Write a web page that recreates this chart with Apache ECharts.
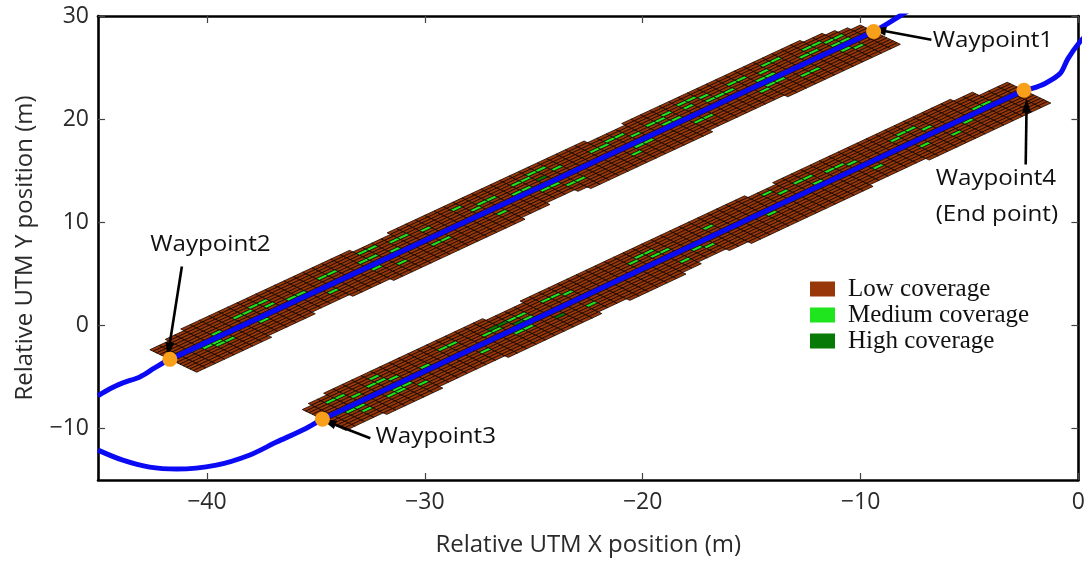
<!DOCTYPE html>
<html><head><meta charset="utf-8">
<script src="https://cdn.jsdelivr.net/npm/echarts@6/dist/echarts.min.js"></script>
<style>html,body{margin:0;padding:0;background:#fff}#c{width:1088px;height:562px}</style>
</head><body><div id="c"></div><script>
// ---------- data ----------
const xTicks = [-40, -30, -20, -10, 0];
const yTicks = [-10, 0, 10, 20, 30];
const waypointNames = ['Waypoint1', 'Waypoint2', 'Waypoint3', 'Waypoint4'];
const waypoints = [[-9.4, 28.5], [-41.7, -3.3], [-34.7, -9.1], [-2.5, 22.8]];
const pathUpper = [[-45, -6.83], [-44.45, -6.15], [-43.86, -5.58], [-43.08, -5.0], [-42.4, -4.13],
  [-41.7, -3.3], [-9.4, 28.5], [-8.2, 30.0], [-7.6, 30.8]];
const pathLower = [[0.4, 28.2], [0.07, 27.5], [-0.48, 25.87], [-0.84, 24.42], [-1.53, 23.46], [-2.12, 22.98],
  [-2.5, 22.8], [-34.7, -9.1], [-35.46, -10.0], [-36.83, -11.35], [-38.06, -12.6], [-39.57, -13.56],
  [-41.39, -13.94], [-42.63, -13.75], [-43.86, -13.08], [-45, -12.1]];
const seriesNames = ['Low coverage', 'Medium coverage', 'High coverage'];
// coverage cells along strip Waypoint2 -> Waypoint1 (rows from upper-left edge to lower-right edge)
// L = low, M = medium, H = high, . = no cell
const strip1Rows = [
  '....LLLLLLLLLLL LLLLLLL....LLLL LLLLLLLLLLLLLLL LL....LLLLLLLLL LLLLLLLLLL.....',
  '..LLLLLLLLLLLLL LLLLLLLLLLLLLLL LLLLLLLLLLLLLLL LLLLLLLLLLLLLLL LLLLLLLLLLLL...',
  'LLLLLLLLLLLLLLL LLLLLLLMMLLLLLL LLMLLLLLLLMMLLL LLLLLLLLLLLMMLL LLLLLMMLLLLLL..',
  'LLLLLLLLLLMMLLL LLLLLLLLLLMMLLL LLLLLLLLMMLLLLL LLLMMLLLLMLLLML LMMLLLLLLMMLLL.',
  'LLLLLLLLMMLLLLL LLMMLLLLLLLLLML LLLLMMLLLLLLMLL LMMLLLLMMLLMLLL LLLLMLLLLLLMMLL',
  'LLLLLLLLLLLMLLL LLLLLLMMLLLLLLL LLLMLLLLLLHLLLL LLLLLMLLLLLLLMM MLLLLLLLMMLLLLL',
  'LLLLLMLLLLLLLMM LLLLLLLLLMLLLLL LLLLLLLMMLLLLLL LLLLLLLLMMLLLLL LLLMMLLLLLLMMLL',
  'LLLLLLLLLLLLLLL LLLLLLLLLLLLLLL LLLLLLLLLLLLLLL LLLLLLLLLLLLLLL LLLLLLLLLLLLLLL',
  'LLMMLLLLLLLLLLL LLLLLLLLLLLLLLL LLLLLLLLLLLLLLL LLLLLLLLLLLLLLL LLLLLLLMLLLLLLL',
  'LLLMMLLLLMLLLLL LLLLLLMLLLLLLLL LLLLLLLLLMMLLLL LLLLMMLLLLLLLLL LLLMMLLLLLLMLLL',
  'LLLLMMLLLLLLLLL LMLLLLLLLLLLMML LLLLMLLLLLLLLLL LLLLLLLLLLMMLLL LLMLLLLLLLLLMLL',
  'LLLLLLLLLLLLLLL LLLLLLLLMLLLLLL LLLLLLLLLLLMMLL LLLMLLLLLLLLLLL LLLLLLMMLLLLLLL',
  'LLLLLLLLLLLLLLL LLLLLLLLLLLLLLL LLLLLLLLLLLLLLL LLLLLLLLLLLLLLL LLLLLLLLLLLLLLL',
  'LLLLLLLLLLLLLLL LLLLLLLLLLLLLLL LLLLLLLLLLLLLLL LLLLLLLLLLLLLLL LLLLLLLLLLLLLLL',
  'LLLLLLLLLLLLL.. ..LLLLLLLLLLLLL LLLLLLLL...LLLL LLLLLLLLLLLLLLL LLLLLLLLLLLLLLL',
  'LLLLLLLL....... ......LLLLLLLLL LLLLL.......LLL LLLLLLLLLL..... ...LLLLLLLLLLLL'
];
// coverage cells along strip Waypoint3 -> Waypoint4
const strip2Rows = [
  '...LLLLLLLLLLLL LLLLL....LLLLLL LLLLLLLLLLLLLLL LLL...LLLLLLLLL LLLLLLLLLL.....',
  '.LLLLLLLLLLLLLL LLLLLLLLLLLLLLL LLLLLLLLLLLLLLL LLLLLLLLLLLLLLL LLLLLLLLLLLL...',
  'LLLLLLLMLLLLLLL LLLLLLLLLLLLLLL LLLLLLLLLLLLLLL LLLLMLLLLLLLLLL LLLLLLLLLLLL...',
  'LLMMLLLLLLLLLLM MLLLLLLLLLMMLLL LLLLLMMLLLLLLLL LLLLLLLMMLLLLLL LLLMMLLLLLLLLLL',
  'LLLLLLMMLLLLLLL LLLLHHMMLLLLMLL LLLLMLLLLLLLMLL LLLLLMLLLLMMLLL LLMLLLLLLLLLLLL',
  'LLLLMLLLMLLLLLL LLLMMLLLLLLLLLL LLLLLLMMLLLLLLL LLLLLLLLLLLLMLL LLLLLMLLLLLLLLL',
  'LLLLLLLLLLLMLLL LLLLLLHMLLLLLLL LLLLLLLLLLLLLLL LLLLLLLLMLLLLLL LLLLLLLLLLMMLLL',
  'LLLLLLLLLLLLLLL LLLLLLLLLLLLLLL LLLLLLLLLLLLLLL LLLLLLLLLLLLLLL LLLLLLLLLLLLLLL',
  'LMLLLLLLLLLLLLL LLLLLLLLLLLLLLL LLLLLLLLLLLLLLL LLLLLLLLLLLLLLL LLLLLLLLLLLLLLL',
  'LLMMLLLMMLLLLLL LLLLLMMLLLLLLLL LLLLLLLLLMLLLLL LLMLLLLLLLLLLLL LLLLLLLLMLLLLLL',
  'LLLLLLMMLLLLLLL LMLLLLLLLHLLLLL LLLLLLLLLLMLLLL LLLLLLLLLLLLLML LLLMLLLLLLLLLLL',
  'LLLMLLLLLMLLLLL LLLLLLLLLLLLMLL LLLLLLLMLLLLLLL LLLLLLLLLLLLLLL LLLLLLMLLLLLLLL',
  'LLLLLLLLLLLLLLL LLLLLLLLLLLLLLL LLLLLLLLLLLLLLL LLLLLLLLLLLLLLL LLLLLLLLLLLLLLL',
  'LLLLLLLLLLLLLLL LLLLLLLLLLLLLLL LLLLLLLLLLLLLLL LLLLLLLLLLLLLLL LLLLLLLLLLLLLLL',
  'LLLLLLLLLLLLLLL LLLLLLLLLLLLLLL LLLLLLLL...LLLL LLLLLLLLLLLLLLL LLLLLLLLLLLLLLL',
  '....LLLLLL..... ..LLLLLLLLLL... LLLLLL.......LL LLLLLLLLLLL.... ..LLLLLLLLLLLLL'
];

// ---------- styling / layout (not data) ----------
const COLORS = ['#983709', '#1ee51e', '#087a08'];
const HALF_WIDTH = 1.75;   // strip half width (m)
const stripDefs = [{from: 1, to: 0, rows: strip1Rows}, {from: 2, to: 3, rows: strip2Rows}];
// annotation placement in data coords
const annotations = [
  {lines: ['Waypoint1'], at: [-6.69, 27.55], align: 'left', arrowFrom: [-6.75, 27.7], wp: 0, tipOff: [0.25, 0.15]},
  {lines: ['Waypoint2'], at: [-39.84, 7.8], align: 'center', arrowFrom: [-41.15, 5.7], wp: 1, tipOff: [-0.05, 0.95]},
  {lines: ['Waypoint3'], at: [-32.26, -10.85], align: 'left', arrowFrom: [-32.5, -10.95], wp: 2, tipOff: [0.3, -0.3]},
  {lines: ['Waypoint4', '(End point)'], at: [-6.55, 14.15], align: 'left', arrowFrom: [-2.42, 15.6], wp: 3, tipOff: [0.12, -1.5]}
];

const FONT = '"Open Sans", "Noto Sans", sans-serif';

// strip geometry
const geom = stripDefs.map(d => {
  const a = waypoints[d.from], b = waypoints[d.to];
  const dx = b[0] - a[0], dy = b[1] - a[1];
  const len = Math.hypot(dx, dy);
  const ux = dx / len, uy = dy / len;
  const rows = d.rows.map(r => r.replace(/ /g, ''));
  const ncol = rows[0].length;
  return {ax: a[0], ay: a[1], ux, uy, nx: -uy, ny: ux, cl: len / ncol, rw: 2 * HALF_WIDTH / rows.length, rows};
});
const cellData = [[], [], []];
geom.forEach((g, k) => {
  g.rows.forEach((row, r) => {
    for (let c = 0; c < row.length; c++) {
      const lvl = 'LMH'.indexOf(row[c]);
      if (lvl < 0) continue;
      const s = (c + 0.5) * g.cl, t = HALF_WIDTH - (r + 0.5) * g.rw;
      cellData[lvl].push([g.ax + g.ux * s + g.nx * t, g.ay + g.uy * s + g.ny * t, k, c, r]);
    }
  });
});
function renderCell(params, api) {
  const k = api.value(2), c = api.value(3), r = api.value(4);
  const g = geom[k];
  const s0 = c * g.cl, s1 = (c + 1) * g.cl;
  const t0 = HALF_WIDTH - r * g.rw, t1 = HALF_WIDTH - (r + 1) * g.rw;
  const P = (s, t) => api.coord([g.ax + g.ux * s + g.nx * t, g.ay + g.uy * s + g.ny * t]);
  return {type: 'polygon', shape: {points: [P(s0, t0), P(s1, t0), P(s1, t1), P(s0, t1)]},
    style: {fill: api.visual('color'), stroke: '#140500', lineWidth: 0.8}};
}

const minus = v => String(v).replace('-', '\u2212');
const frameLine = {show: true, onZero: false, lineStyle: {color: '#000', width: 2.6}};
const axisCommon = {
  splitLine: {show: false},
  axisLine: frameLine,
};

const chart = echarts.init(document.getElementById('c'), null, {renderer: 'canvas'});
const option = {
  animation: false,
  backgroundColor: '#fff',
  grid: {left: 98, right: 5, top: 16, bottom: 76},
  xAxis: [
    Object.assign({type: 'value', min: -45, max: 0, position: 'bottom',
      name: 'Relative UTM X position (m)', nameLocation: 'middle', nameGap: 53,
      nameTextStyle: {fontFamily: FONT, fontSize: 24, color: '#2a2a2a'},
      axisTick: {show: true, inside: true, length: 7, customValues: xTicks, lineStyle: {color: '#444', width: 1.2}},
      axisLabel: {show: true, customValues: xTicks, formatter: minus, margin: 11,
        fontFamily: FONT, fontSize: 23, color: '#2a2a2a'}}, axisCommon),
    Object.assign({type: 'value', min: -45, max: 0, position: 'top',
      axisTick: {show: true, inside: true, length: 7, customValues: xTicks, lineStyle: {color: '#444', width: 1.2}},
      axisLabel: {show: false}}, axisCommon)
  ],
  yAxis: [
    Object.assign({type: 'value', min: -15, max: 30, position: 'left',
      name: 'Relative UTM Y position (m)', nameLocation: 'middle', nameGap: 61,
      nameTextStyle: {fontFamily: FONT, fontSize: 24, color: '#2a2a2a'},
      axisTick: {show: true, inside: true, length: 7, customValues: yTicks, lineStyle: {color: '#444', width: 1.2}},
      axisLabel: {show: true, customValues: yTicks, formatter: minus, margin: 9,
        fontFamily: FONT, fontSize: 23, color: '#2a2a2a'}}, axisCommon),
    Object.assign({type: 'value', min: -15, max: 30, position: 'right',
      axisTick: {show: true, inside: true, length: 7, customValues: yTicks, lineStyle: {color: '#444', width: 1.2}},
      axisLabel: {show: false}}, axisCommon)
  ],
  legend: {
    data: seriesNames, orient: 'vertical', left: 805, top: 271,
    itemWidth: 25, itemHeight: 15, itemGap: 0, icon: 'rect',
    textStyle: {fontFamily: '"Liberation Serif", serif', fontSize: 25, color: '#111', lineHeight: 26, padding: [0, 0, 0, 8]},
    selectedMode: false
  },
  series: [
    ...seriesNames.map((nm, i) => ({
      name: nm, type: 'custom', renderItem: renderCell, data: cellData[i],
      itemStyle: {color: COLORS[i]}, encode: {x: 0, y: 1}, z: 2, silent: true
    })),
    {type: 'line', data: pathUpper, showSymbol: false, smooth: 0.3, lineStyle: {color: '#0a0af5', width: 5}, z: 3, clip: true, silent: true},
    {type: 'line', data: pathLower, showSymbol: false, smooth: 0.3, lineStyle: {color: '#0a0af5', width: 5}, z: 3, clip: true, silent: true},
    {type: 'scatter', data: waypoints, symbolSize: 15, itemStyle: {color: '#f9a01a', opacity: 1}, z: 6, silent: true,
      markLine: {
        silent: true, symbol: ['none', 'triangle'], symbolSize: [9, 14],
        lineStyle: {color: '#000', width: 2.6, type: 'solid'}, label: {show: false},
        data: annotations.map(a => [{coord: a.arrowFrom},
          {coord: [waypoints[a.wp][0] + a.tipOff[0], waypoints[a.wp][1] + a.tipOff[1]]}])
      }}
  ]
};
chart.setOption(option);

const gfx = [];
annotations.forEach(a => {
  a.lines.forEach((txt, i) => {
    const p = chart.convertToPixel({gridIndex: 0}, a.at);
    gfx.push({type: 'text', x: p[0], y: p[1] + i * 36, scaleX: 1.15, z: 10,
      style: {text: txt, fontFamily: FONT, fontSize: 21, fill: '#111', align: a.align, verticalAlign: 'middle'}});
  });
});
chart.setOption({graphic: gfx});
</script></body></html>
